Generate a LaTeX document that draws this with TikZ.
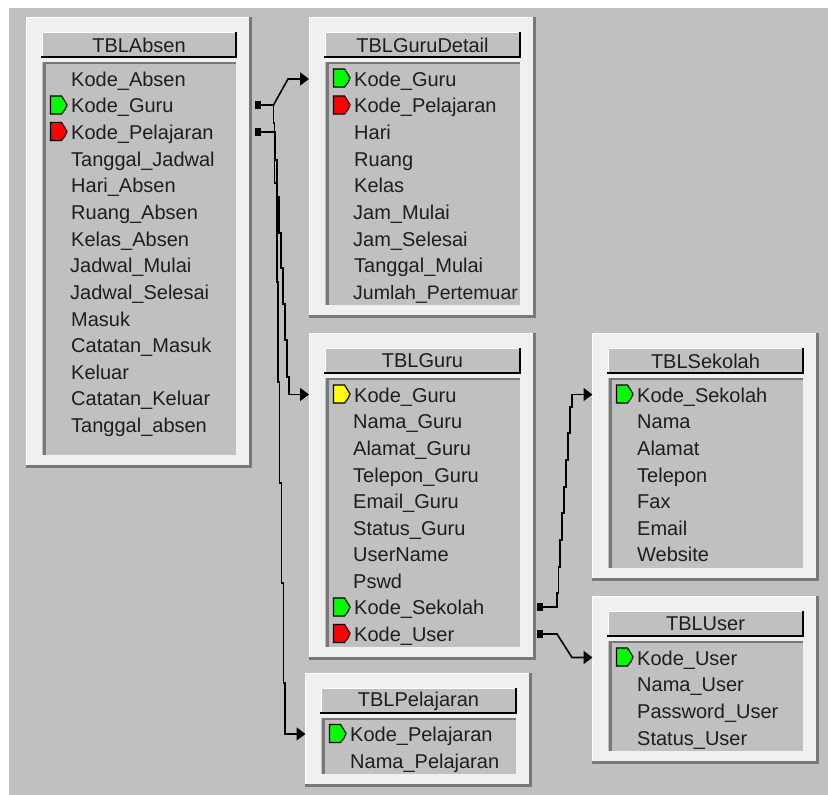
\documentclass[tikz,border=0pt]{standalone}
\usepackage{fontspec}
\setmainfont{Liberation Sans}
\usetikzlibrary{arrows.meta}
\definecolor{bggray}{RGB}{192,192,192}
\definecolor{framecol}{RGB}{240,240,240}
\definecolor{shadowcol}{RGB}{120,120,120}
\definecolor{inkcol}{RGB}{30,30,30}
\definecolor{keygreen}{RGB}{0,255,0}
\definecolor{keyred}{RGB}{255,0,0}
\definecolor{keyyellow}{RGB}{255,255,0}
\tikzset{
  x=1pt,y=-1pt,
  framebox/.style={fill=framecol,draw=none,inner sep=0pt,outer sep=0pt},
  titletext/.style={font=\fontsize{20}{24}\selectfont,text=inkcol,inner sep=0pt},
  fieldtext/.style={font=\fontsize{20}{24}\selectfont,text=inkcol,inner sep=0pt,anchor=base west},
  stub/.style={fill=black,draw=none,inner sep=0pt,minimum width=6pt,minimum height=8pt},
  link/.style={draw=black,line width=1.6pt,line join=miter},
  arrowlink/.style={link,-{Triangle[length=9pt,width=13pt]}},
}
% id, x0, y0, x1, y1, title
\newcommand{\dbtable}[6]{%
  \fill[white] (#2-1,#3-1) rectangle (#4-1,#5-1);
  \node[framebox,anchor=north west,minimum width=#4-#2-2,minimum height=#5-#3-2] (#1) at (#2,#3) {};
  \fill[shadowcol] (#2-1,#5-2) rectangle (#4+1,#5+1);
  \fill[shadowcol] (#4-2,#3-1) rectangle (#4+1,#5+1);
  \fill[bggray] (#2+15,#3+14) rectangle (#4-15,#5-12);
  \fill[white] (#2+15,#3+14) rectangle (#4-15,#3+39);
  \fill[bggray] (#2+16,#3+15) rectangle (#4-16,#3+38);
  \fill[framecol] (#2+13,#3+39.5) rectangle (#4-14,#3+43.5);
  \draw[black,line width=1.5pt] (#2+14,#3+39) -- (#4-15,#3+39) -- (#4-15,#3+14);
  \fill[shadowcol] (#2+15.5,#3+44) rectangle (#4-15.5,#3+46);
  \fill[shadowcol] (#2+15.5,#3+44) rectangle (#2+18.5,#5-12);
  \node[titletext] (#1-title) at ({(#2+#4)/2},#3+27) {#6};
}
% name, text x, row centre y, text
\newcommand{\fieldrow}[4]{\node[fieldtext] (#1) at (#2,#3+7) {#4};}
% text x, row centre y, colour
\newcommand{\keymark}[3]{%
  \draw[black,line width=1.2pt,fill=#3]
    (#1-20.5,#2-9.5) -- (#1-9.5,#2-9.5) -- (#1-6,#2-4) -- (#1-4,#2-0.5)
    -- (#1-6,#2+4) -- (#1-9.5,#2+8.5) -- (#1-20.5,#2+8.5) -- cycle;
}
\begin{document}
\begin{tikzpicture}
\useasboundingbox (0,0) rectangle (828,795);
\fill[white] (0,0) rectangle (828,795);
\fill[bggray] (9,8) rectangle (828,795);

% TBLAbsen
\dbtable{absen}{27}{18}{251}{467}{TBLAbsen}
\fieldrow{absen-1}{71}{79}{Kode\_Absen}
\keymark{71}{105.5}{keygreen}
\fieldrow{absen-2}{71}{105.5}{Kode\_Guru}
\keymark{71}{132}{keyred}
\fieldrow{absen-3}{71}{132}{Kode\_Pelajaran}
\fieldrow{absen-4}{71}{159}{Tanggal\_Jadwal}
\fieldrow{absen-5}{71}{185.5}{Hari\_Absen}
\fieldrow{absen-6}{71}{212}{Ruang\_Absen}
\fieldrow{absen-7}{71}{239}{Kelas\_Absen}
\fieldrow{absen-8}{70}{265.5}{Jadwal\_Mulai}
\fieldrow{absen-9}{70}{292}{Jadwal\_Selesai}
\fieldrow{absen-10}{71}{319}{Masuk}
\fieldrow{absen-11}{71}{345}{Catatan\_Masuk}
\fieldrow{absen-12}{71}{372}{Keluar}
\fieldrow{absen-13}{71}{398.5}{Catatan\_Keluar}
\fieldrow{absen-14}{71}{425}{Tanggal\_absen}

% TBLGuruDetail
\dbtable{detail}{310}{18}{535}{317}{TBLGuruDetail}
\keymark{354}{78.5}{keygreen}
\fieldrow{detail-1}{354}{79}{Kode\_Guru}
\keymark{354}{105.5}{keyred}
\fieldrow{detail-2}{354}{105.5}{Kode\_Pelajaran}
\fieldrow{detail-3}{354}{132}{Hari}
\fieldrow{detail-4}{354}{159}{Ruang}
\fieldrow{detail-5}{354}{185.5}{Kelas}
\fieldrow{detail-6}{353}{212}{Jam\_Mulai}
\fieldrow{detail-7}{353}{239}{Jam\_Selesai}
\fieldrow{detail-8}{354}{265.5}{Tanggal\_Mulai}
\fieldrow{detail-9}{353}{292}{\fontsize{19.5}{24}\selectfont Jumlah\_Pertemuar}

% TBLGuru
\dbtable{guru}{310}{334}{535}{659}{TBLGuru}
\keymark{354}{394.5}{keyyellow}
\fieldrow{guru-1}{354}{395}{Kode\_Guru}
\fieldrow{guru-2}{353}{421.5}{Nama\_Guru}
\fieldrow{guru-3}{353}{448}{Alamat\_Guru}
\fieldrow{guru-4}{353}{475}{Telepon\_Guru}
\fieldrow{guru-5}{353}{501.5}{Email\_Guru}
\fieldrow{guru-6}{353}{528}{Status\_Guru}
\fieldrow{guru-7}{353}{554.5}{UserName}
\fieldrow{guru-8}{353}{581}{Pswd}
\keymark{354}{607.5}{keygreen}
\fieldrow{guru-9}{354}{607.5}{Kode\_Sekolah}
\keymark{354}{634}{keyred}
\fieldrow{guru-10}{354}{634}{Kode\_User}

% TBLSekolah
\dbtable{sekolah}{593}{334}{818}{580}{TBLSekolah}
\keymark{637}{394.5}{keygreen}
\fieldrow{sekolah-1}{637}{395}{Kode\_Sekolah}
\fieldrow{sekolah-2}{637}{421.5}{Nama}
\fieldrow{sekolah-3}{637}{448}{Alamat}
\fieldrow{sekolah-4}{637}{475}{Telepon}
\fieldrow{sekolah-5}{637}{501.5}{Fax}
\fieldrow{sekolah-6}{637}{528}{Email}
\fieldrow{sekolah-7}{637}{554.5}{Website}

% TBLUser
\dbtable{user}{593}{597}{818}{763}{TBLUser}
\keymark{637}{657.5}{keygreen}
\fieldrow{user-1}{637}{658}{Kode\_User}
\fieldrow{user-2}{637}{684.5}{Nama\_User}
\fieldrow{user-3}{637}{711}{Password\_User}
\fieldrow{user-4}{637}{738}{Status\_User}

% TBLPelajaran
\dbtable{pelajaran}{306}{674}{531}{786}{TBLPelajaran}
\keymark{350}{734}{keygreen}
\fieldrow{pelajaran-1}{350}{734}{Kode\_Pelajaran}
\fieldrow{pelajaran-2}{350}{761}{Nama\_Pelajaran}

% connector ends
\node[stub] (sGuru) at (257.5,105) {};
\node[stub] (sPel) at (257.5,132) {};
\node[stub] (sSek) at (539.5,607) {};
\node[stub] (sUser) at (539.5,634) {};
\coordinate (tDetail) at (309,79);
\coordinate (tGuru) at (309,394.5);
\coordinate (tPel) at (305.5,734);
\coordinate (tSek) at (592.5,394.5);
\coordinate (tUser) at (592.5,657.5);

% connectors
\draw[arrowlink] (sGuru.center) -- (273.5,105) -- (288,79) -- (tDetail);
\draw[arrowlink] (sPel.center) -- (275,132) -- (275,160) -- (277,160) -- (277,197) -- (279,197) -- (279,233) -- (281,233) -- (281,268) -- (283,268) -- (283,304) -- (285,304) -- (285,340) -- (287,340) -- (287,377) -- (289,377) -- (289,394.5) -- (tGuru);
\draw[arrowlink] (sGuru.center) -- (273.5,105) -- (273.5,123) -- (274.5,123) -- (274.5,183) -- (277,183) -- (277,282) -- (278,282) -- (278,382) -- (279.5,382) -- (279.5,483) -- (281.5,483) -- (281.5,583) -- (283.5,583) -- (283.5,683) -- (285,683) -- (285,734) -- (tPel);
\draw[arrowlink] (sSek.center) -- (557,607) -- (557,593) -- (558.5,593) -- (558.5,567) -- (560,567) -- (560,540) -- (562,540) -- (562,513) -- (564,513) -- (564,487) -- (566,487) -- (566,460) -- (568,460) -- (568,433) -- (570,433) -- (570,407) -- (572,407) -- (572,394.5) -- (tSek);
\draw[arrowlink] (sUser.center) -- (557,634) -- (572,657.5) -- (tUser);
\end{tikzpicture}
\end{document}
